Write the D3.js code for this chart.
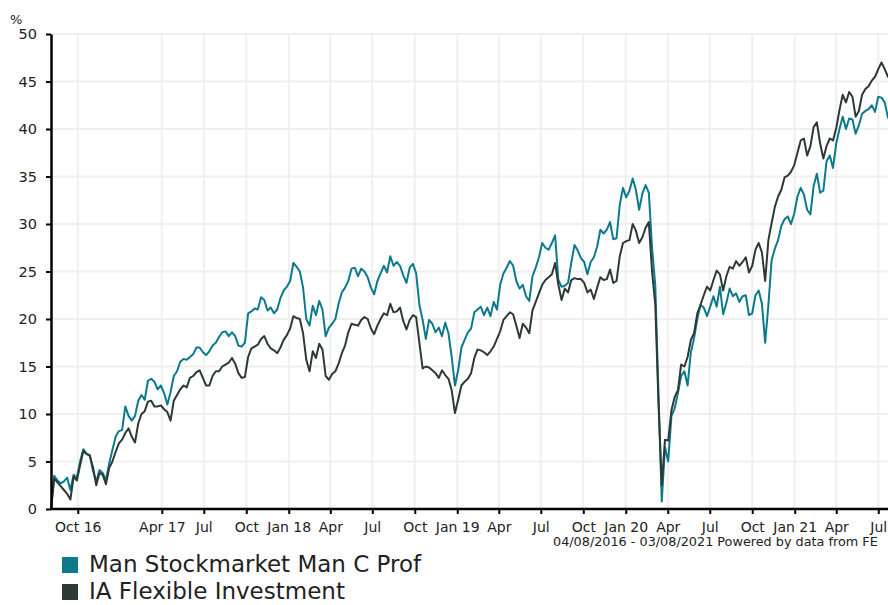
<!DOCTYPE html>
<html>
<head>
<meta charset="utf-8">
<script src="https://cdn.jsdelivr.net/npm/d3@7"></script>
<style>
body { margin: 0; background: #fff; }
text { font-family: "DejaVu Sans", Verdana, sans-serif; fill: #222; }
</style>
</head>
<body>
<div id="chart"></div>
<script>
const width = 888, height = 605;
const margin = {top: 34, left: 51, bottom: 509, right: 893.5};

// weekly points from 04/08/2016
const startDate = new Date(2016, 7, 4);
const endDate = new Date(2021, 7, 3);

const fund = [
0, 3.5, 3.0, 2.7, 2.9, 3.3, 2.0, 3.6, 3.3, 5.0,
6.3, 5.8, 5.7, 4.0, 2.9, 4.1, 3.8, 3.0, 4.8, 6.2,
7.6, 8.2, 8.3, 10.8, 9.8, 9.3, 9.8, 11.4, 12.0, 11.5,
13.5, 13.7, 13.4, 12.6, 13.0, 12.2, 11.0, 12.3, 14.0, 14.5,
15.5, 15.8, 15.7, 16.0, 16.3, 17.0, 17.0, 16.5, 16.2, 16.6,
17.2, 17.5, 18.1, 18.6, 18.7, 18.2, 18.6, 18.2, 17.2, 17.1,
17.5, 20.6, 20.8, 21.1, 21.0, 22.3, 22.0, 20.9, 21.2, 20.6,
21.0, 22.2, 23.0, 23.4, 24.0, 25.9, 25.5, 25.0, 23.3, 20.0,
19.3, 21.4, 20.4, 21.9, 21.0, 18.2, 19.1, 19.5, 20.0, 21.6,
22.8, 23.3, 24.0, 25.3, 25.4, 24.5, 25.3, 25.0, 24.4, 23.3,
22.6, 24.0, 24.8, 25.6, 24.9, 26.6, 25.6, 26.0, 25.6, 24.6,
23.8, 25.4, 25.8, 24.8, 21.5, 19.9, 17.9, 19.9, 19.5, 18.6,
19.1, 18.2, 19.6, 18.5, 16.0, 13.0, 14.6, 17.0, 17.8, 18.6,
19.0, 20.7, 21.0, 21.3, 20.4, 21.2, 20.3, 21.8, 21.0, 23.6,
24.8, 25.4, 26.1, 25.6, 24.0, 23.2, 23.6, 22.4, 21.9, 24.5,
25.4, 26.5, 28.0, 27.5, 27.3, 28.0, 28.8, 24.1, 23.4, 23.5,
23.8, 25.9, 27.8, 27.2, 26.4, 26.0, 24.7, 26.0, 26.5, 27.6,
29.4, 29.0, 29.4, 30.2, 28.4, 28.5, 32.0, 33.8, 32.8, 33.5,
34.8, 33.6, 31.5, 33.2, 34.1, 33.3, 27.5, 23.5, 12.0, 0.8,
6.5, 5.0, 9.8, 10.6, 12.2, 14.0, 14.5, 13.0, 16.5, 18.0,
20.0, 21.5, 21.2, 20.3, 21.3, 22.4, 21.3, 23.4, 20.5, 21.7,
23.2, 22.4, 22.7, 21.8, 22.4, 22.5, 20.4, 20.6, 22.5, 23.0,
21.6, 17.5, 21.5, 26.2, 27.4, 28.3, 29.8, 30.5, 30.8, 30.0,
31.1, 32.9, 33.8, 33.1, 31.5, 31.0, 34.0, 35.3, 33.3, 33.5,
36.6, 37.2, 35.9, 38.5, 40.0, 41.3, 40.0, 41.1, 41.0, 39.5,
40.4, 41.6, 41.9, 42.1, 42.5, 41.8, 43.4, 43.3, 42.8, 41.2, 41.0
];

const sector = [
0, 3.2, 2.8, 2.4, 2.0, 1.6, 1.0, 3.4, 3.0, 4.6,
6.1, 5.8, 5.6, 4.4, 2.5, 3.8, 3.6, 2.6, 4.3, 5.0,
6.0, 6.9, 7.3, 8.0, 8.5, 7.6, 7.0, 9.0, 10.0, 10.3,
11.3, 11.4, 10.8, 10.8, 10.9, 10.5, 10.2, 9.3, 11.4, 12.0,
12.6, 13.0, 12.8, 13.8, 14.0, 14.4, 14.6, 13.8, 13.0, 13.0,
14.0, 14.5, 14.5, 15.0, 15.2, 15.4, 15.9, 15.3, 14.3, 13.8,
13.9, 16.0, 16.9, 17.1, 17.3, 17.9, 18.2, 17.4, 16.9, 16.7,
16.4, 17.0, 17.8, 18.3, 19.0, 20.3, 20.1, 20.0, 18.5, 15.7,
14.5, 16.6, 15.9, 17.4, 16.8, 14.0, 13.6, 14.2, 14.5, 15.3,
16.4, 17.2, 18.6, 19.5, 19.4, 19.3, 19.9, 20.2, 20.0, 19.0,
18.4, 19.3, 20.0, 20.6, 20.4, 21.6, 20.7, 20.8, 21.2, 19.8,
18.9, 19.9, 20.4, 20.2, 17.5, 14.8, 15.0, 14.9, 14.6, 14.3,
13.8, 14.6, 14.1, 13.7, 12.5, 10.1, 11.5, 13.0, 13.4, 13.7,
14.3, 15.9, 16.8, 16.7, 16.5, 16.2, 16.6, 17.1, 17.9, 18.7,
19.9, 20.3, 20.7, 20.5, 19.3, 18.0, 19.5, 19.1, 18.5, 20.9,
21.8, 22.7, 23.6, 24.1, 24.4, 24.7, 25.9, 23.6, 22.0, 23.2,
22.8, 24.1, 24.3, 24.2, 24.2, 23.8, 22.8, 23.1, 22.1, 23.3,
24.4, 24.1, 24.2, 25.2, 23.8, 24.0, 26.6, 28.0, 28.2, 28.3,
30.0, 29.3, 28.0, 28.6, 29.6, 30.2, 25.0, 21.5, 11.0, 2.5,
7.3, 7.2, 10.4, 11.8, 12.5, 15.2, 15.0, 16.0, 17.8, 18.5,
20.6, 21.5, 22.5, 23.4, 23.0, 24.1, 25.1, 24.7, 23.0, 24.5,
25.5, 25.3, 26.1, 25.6, 26.0, 26.5, 24.9, 25.6, 27.3, 28.0,
27.0, 24.0, 28.3, 30.1, 31.8, 32.9, 33.6, 34.9, 35.1, 35.5,
36.2, 37.5, 38.8, 39.0, 37.2, 38.2, 40.2, 40.7, 38.5, 36.9,
38.2, 39.0, 38.8, 40.1, 42.0, 43.6, 42.8, 43.9, 43.4, 41.3,
41.9, 43.6, 44.2, 44.5, 45.1, 45.5, 46.3, 47.0, 46.3, 45.5, 45.3
];

const seriesNames = ["Man Stockmarket Man C Prof", "IA Flexible Investment"];
const seriesColors = ["#0b7a8c", "#2d3936"];

const tickDates = ["2016-10-01", "2017-04-01", "2017-07-01", "2017-10-01", "2018-01-01", "2018-04-01",
  "2018-07-01", "2018-10-01", "2019-01-01", "2019-04-01", "2019-07-01", "2019-10-01", "2020-01-01",
  "2020-04-01", "2020-07-01", "2020-10-01", "2021-01-01", "2021-04-01", "2021-07-01"];
const tickLabels = ["Oct 16", "Apr 17", "Jul", "Oct", "Jan 18", "Apr", "Jul", "Oct", "Jan 19", "Apr",
  "Jul", "Oct", "Jan 20", "Apr", "Jul", "Oct", "Jan 21", "Apr", "Jul"];
const yTicks = [0, 5, 10, 15, 20, 25, 30, 35, 40, 45, 50];

const dates = fund.map((d, i) => d3.timeDay.offset(startDate, 7 * i));
const xTicks = tickDates.map(d => d3.timeParse("%Y-%m-%d")(d));

const svg = d3.select('#chart').append('svg')
  .attr('width', width).attr('height', height);

const x = d3.scaleTime().domain([startDate, endDate]).range([margin.left, margin.right]);
const y = d3.scaleLinear().domain([0, 50]).range([margin.bottom, margin.top]);

// grid
svg.append('g').selectAll('line').data(yTicks.slice(1)).join('line')
  .attr('x1', margin.left).attr('x2', width)
  .attr('y1', d => y(d)).attr('y2', d => y(d))
  .attr('stroke', '#efefef').attr('stroke-width', 2);
svg.append('g').selectAll('line').data(xTicks).join('line')
  .attr('x1', d => x(d)).attr('x2', d => x(d))
  .attr('y1', margin.top).attr('y2', margin.bottom)
  .attr('stroke', '#efefef').attr('stroke-width', 2);

// lines
const line = d3.line().x((d, i) => x(dates[i])).y(d => y(d));
[fund, sector].forEach((s, j) => {
  svg.append('path').datum(s)
    .attr('d', line)
    .attr('fill', 'none')
    .attr('stroke', seriesColors[j])
    .attr('stroke-width', 2)
    .attr('stroke-linejoin', 'round');
});

// axes
const xAxis = svg.append('g')
  .attr('transform', `translate(0,${margin.bottom})`)
  .call(d3.axisBottom(x).tickValues(xTicks).tickFormat((d, i) => tickLabels[i]).tickSize(5).tickSizeOuter(0));
xAxis.select('.domain').attr('stroke', '#000').attr('stroke-width', 2.5).attr('d', `M${margin.left},0H${width}`);
xAxis.selectAll('.tick line').attr('stroke', '#000').attr('stroke-width', 2);
xAxis.selectAll('.tick text').attr('font-size', 14).attr('dy', '1.05em');

const yAxis = svg.append('g')
  .attr('transform', `translate(${margin.left},0)`)
  .call(d3.axisLeft(y).tickValues(yTicks).tickSize(5).tickSizeOuter(0).tickPadding(9));
yAxis.select('.domain').attr('stroke', '#000').attr('stroke-width', 2.5);
yAxis.selectAll('.tick line').attr('stroke', '#000').attr('stroke-width', 2);
yAxis.selectAll('.tick text').attr('font-size', 14.5);
svg.selectAll('.tick text').style('font-family', '"DejaVu Sans", Verdana, sans-serif').attr('fill', '#222');

svg.append('text').attr('x', 10).attr('y', 24).attr('font-size', 13).text('%');

svg.append('text').attr('x', 553).attr('y', 546).attr('font-size', 12.8)
  .text('04/08/2016 - 03/08/2021 Powered by data from FE');

// legend
const legend = svg.append('g').selectAll('g').data(seriesNames).join('g')
  .attr('transform', (d, i) => `translate(62,${557 + i * 27})`);
legend.append('rect').attr('width', 16).attr('height', 16)
  .attr('fill', (d, i) => seriesColors[i]);
legend.append('text').attr('x', 27).attr('y', 15).attr('font-size', 23)
  .text(d => d);
</script>
</body>
</html>
